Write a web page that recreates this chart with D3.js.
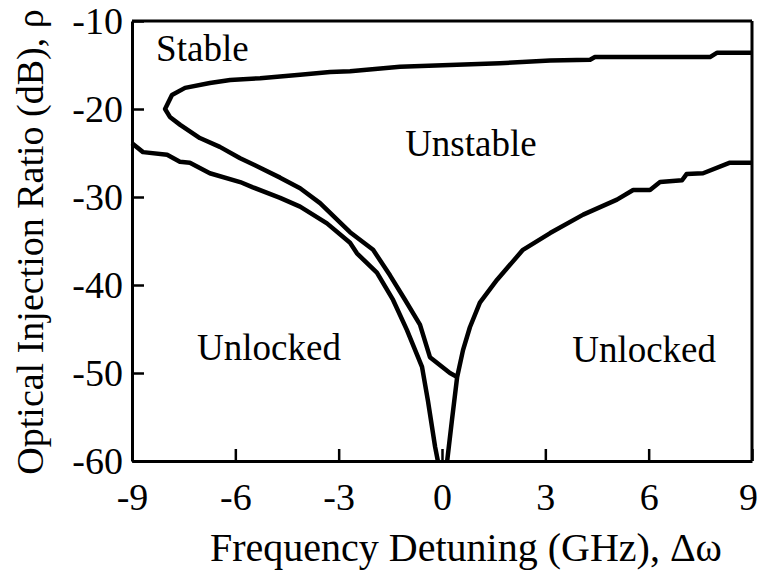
<!DOCTYPE html>
<html>
<head>
<meta charset="utf-8">
<script src="https://cdn.jsdelivr.net/npm/d3@7"></script>
<style>
  body { margin: 0; background: #fff; }
  svg { display: block; font-family: "Liberation Serif", "Times New Roman", serif; }
  .axis text { font-size: 38px; fill: #000; font-family: "Liberation Serif", serif; }
  .axis path, .axis line { stroke: #000; }
</style>
</head>
<body>
<svg id="svg" width="760" height="574"></svg>
<script>
// stability boundary: upper branch (right edge -> nose) then lower branch (nose -> cusp)
var stableX = [9, 7.99, 7.78, 4.44, 4.3, 3.14, 1.68, 0.23, -1.22, -2.67, -3.25, -4.12, -5.28, -6.15, -6.74, -7.46, -7.84, -8.04,
               -7.9, -7.6, -7.03, -6.45, -5.86, -5.43, -4.7, -4.12, -3.54, -2.67, -2.0, -1.51, -1.07, -0.64, -0.35, 0.23, 0.44];
var stableY = [-13.6, -13.6, -14.1, -14.1, -14.4, -14.5, -14.8, -15.0, -15.2, -15.7, -15.8, -16.1, -16.5, -16.7, -17.05, -17.6, -18.4, -20,
               -20.9, -21.8, -23.3, -24.3, -25.6, -26.4, -27.8, -29.0, -30.7, -34.0, -36.0, -38.9, -41.7, -44.5, -48.2, -50.0, -50.45];

// locking boundary, left side
var lockLeftX = [-9, -8.68, -7.98, -7.61, -7.32, -7.03, -6.74, -5.86, -5.49, -4.7, -4.12, -3.34, -2.67, -2.47, -1.89, -1.42, -1.02, -0.58, -0.41, -0.2, -0.12];
var lockLeftY = [-23.9, -24.9, -25.2, -26.0, -26.1, -26.7, -27.3, -28.3, -28.9, -30.1, -31.1, -33.0, -35.2, -36.4, -38.6, -41.7, -45.1, -49.3, -53.1, -58.4, -60];

// locking boundary, right side
var lockRightX = [0.15, 0.29, 0.44, 0.61, 0.81, 1.1, 1.6, 2.35, 3.14, 4.1, 5.08, 5.55, 6.04, 6.33, 6.97, 7.1, 7.58, 8.36, 9];
var lockRightY = [-60, -55.3, -50.45, -47.4, -44.8, -42.0, -39.4, -36.0, -34.1, -32.0, -30.3, -29.2, -29.2, -28.3, -28.1, -27.4, -27.3, -26.1, -26.1];

var xTicks = [-9, -6, -3, 0, 3, 6, 9];
var yTicks = [-10, -20, -30, -40, -50, -60];

var regionLabels = ["Stable", "Unstable", "Unlocked", "Unlocked"];
var labelX = [-8.3, -1.07, -7.11, 3.78];
var labelY = [-14.5, -25.3, -48.5, -48.7];

var svg = d3.select("#svg");
var plot = {left: 132, right: 752, top: 21, bottom: 461};

var xScale = d3.scaleLinear().domain([-9, 9]).range([plot.left, plot.right]);
var yScale = d3.scaleLinear().domain([-60, -10]).range([plot.bottom, plot.top]);

// x axis (ticks pointing in)
var xAxis = svg.append("g")
  .attr("class", "axis")
  .attr("transform", "translate(0," + plot.bottom + ")")
  .call(d3.axisBottom(xScale).tickValues(xTicks).tickSize(-12).tickSizeOuter(0).tickPadding(22)
    .tickFormat(d3.format("d")));

// y axis
var yAxis = svg.append("g")
  .attr("class", "axis")
  .attr("transform", "translate(" + plot.left + ",0)")
  .call(d3.axisLeft(yScale).tickValues(yTicks).tickSize(-12).tickSizeOuter(0).tickPadding(9)
    .tickFormat(d3.format("d")));

// use hyphen instead of unicode minus like the original
svg.selectAll(".axis .tick text").text(function(d) { return String(d); });
svg.selectAll(".axis path").attr("stroke-width", 3);
svg.selectAll(".axis line").attr("stroke-width", 2.5);
// keep the last label inside the page
xAxis.selectAll(".tick text").filter(function(d) { return d === 9; }).attr("dx", -4);

// top and right frame
svg.append("line")
  .attr("x1", xScale(-9)).attr("x2", xScale(9))
  .attr("y1", yScale(-10)).attr("y2", yScale(-10))
  .attr("stroke", "#000").attr("stroke-width", 3);
svg.append("line")
  .attr("x1", xScale(9)).attr("x2", xScale(9))
  .attr("y1", yScale(-10)).attr("y2", yScale(-60))
  .attr("stroke", "#000").attr("stroke-width", 3);

var line = d3.line()
  .x(function(d) { return xScale(d[0]); })
  .y(function(d) { return yScale(d[1]); });

var curves = [d3.zip(stableX, stableY), d3.zip(lockLeftX, lockLeftY), d3.zip(lockRightX, lockRightY)];

svg.append("g").selectAll("path").data(curves).enter()
  .append("path")
  .attr("d", line)
  .attr("fill", "none")
  .attr("stroke", "#000")
  .attr("stroke-width", 4.5)
  .attr("stroke-linejoin", "round");

// region labels
svg.append("g").selectAll("text").data(regionLabels).enter()
  .append("text")
  .attr("x", function(d, i) { return xScale(labelX[i]); })
  .attr("y", function(d, i) { return yScale(labelY[i]); })
  .attr("font-size", 37)
  .text(function(d) { return d; });

// axis titles
svg.append("text")
  .attr("x", 466)
  .attr("y", 561)
  .attr("text-anchor", "middle")
  .attr("font-size", 40)
  .text("Frequency Detuning (GHz), \u0394\u03c9");

svg.append("text")
  .attr("transform", "translate(43," + 242 + ") rotate(-90)")
  .attr("text-anchor", "middle")
  .attr("font-size", 38)
  .text("Optical Injection Ratio (dB), \u03c1");
</script>
</body>
</html>
